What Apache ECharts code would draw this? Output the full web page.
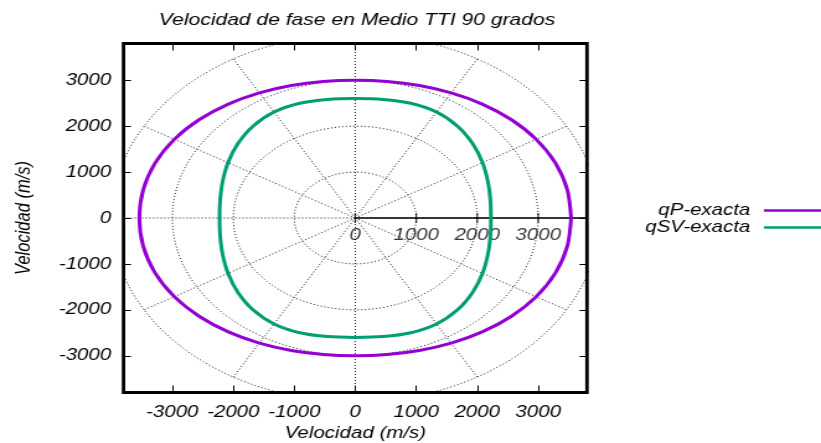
<!DOCTYPE html>
<html>
<head>
<meta charset="utf-8">
<script src="https://cdn.jsdelivr.net/npm/echarts@6/dist/echarts.min.js"></script>
<style>
  html, body { margin: 0; padding: 0; background: #fff; overflow: hidden; }
  /* gnuplot-style wide lettering: the chart is laid out narrower and widened */
  #chart { width: 662px; height: 443px; transform: scaleX(1.2402); transform-origin: 0 0; }
</style>
</head>
<body>
<div id="chart"></div>
<script>
// Propagation angle (degrees) and phase velocity (m/s) of each wave mode
const angles = [0, 10, 20, 30, 40, 50, 60, 70, 80, 90, 100, 110, 120, 130, 140, 150, 160, 170,
                180, 190, 200, 210, 220, 230, 240, 250, 260, 270, 280, 290, 300, 310, 320, 330, 340, 350];
const qPVelocity = [3540, 3531, 3494, 3426, 3336, 3238, 3146, 3070, 3019, 3000, 3019, 3070, 3146, 3238, 3336, 3426, 3494, 3531,
                    3540, 3531, 3494, 3426, 3336, 3238, 3146, 3070, 3019, 3000, 3019, 3070, 3146, 3238, 3336, 3426, 3494, 3531];
const qSVVelocity = [2225, 2250, 2315, 2410, 2515, 2610, 2665, 2660, 2622, 2600, 2622, 2660, 2665, 2610, 2515, 2410, 2315, 2250,
                     2225, 2250, 2315, 2410, 2515, 2610, 2665, 2660, 2622, 2600, 2622, 2660, 2665, 2610, 2515, 2410, 2315, 2250];

// Axis ticks, polar grid rings and spokes
const axisTicks = [-3000, -2000, -1000, 0, 1000, 2000, 3000];
const radialTicks = [0, 1000, 2000, 3000];
const gridRadii = [1000, 2000, 3000, 4000];
const spokeAngles = [0, 30, 60, 90, 120, 150, 180, 210, 240, 270, 300, 330];
const axisLimit = 3800;

const FONT = "'Liberation Sans', Arial, Helvetica, sans-serif";
const textBase = { color: '#000', fontFamily: FONT, fontStyle: 'italic', fontSize: 16.5 };
const rad = Math.PI / 180;

function polarToXY(angleList, radiusList) {
  const pts = angleList.map((a, i) => [radiusList[i] * Math.cos(a * rad), radiusList[i] * Math.sin(a * rad)]);
  pts.push(pts[0].slice());
  return pts;
}

const gridStyle = { color: '#1e1e1e', width: 1, type: [1, 2] };
const guideSeries = [];
gridRadii.forEach(r => {
  const pts = [];
  for (let a = 0; a <= 360; a += 2) pts.push([r * Math.cos(a * rad), r * Math.sin(a * rad)]);
  guideSeries.push({ type: 'line', data: pts, symbol: 'none', silent: true, lineStyle: gridStyle, z: 1 });
});
spokeAngles.forEach(a => {
  const outer = gridRadii[gridRadii.length - 1];
  guideSeries.push({
    type: 'line', data: [[0, 0], [outer * Math.cos(a * rad), outer * Math.sin(a * rad)]],
    symbol: 'none', silent: true, lineStyle: gridStyle, z: 1
  });
});

const valueFmt = v => String(v);

function frameAxis(position, tickLength, withLabels) {
  const axis = {
    type: 'value', min: -axisLimit, max: axisLimit, position,
    axisLine: { show: false, onZero: false }, splitLine: { show: false },
    axisTick: { inside: true, length: tickLength, customValues: axisTicks, lineStyle: { color: '#000', width: 1 } },
    axisLabel: { show: false }
  };
  if (withLabels) {
    axis.axisLabel = Object.assign({ show: true, customValues: axisTicks, formatter: valueFmt }, textBase);
  }
  return axis;
}

const xMain = frameAxis('bottom', 7, true);
xMain.axisLabel.margin = 11;
Object.assign(xMain, { name: 'Velocidad (m/s)', nameLocation: 'middle', nameGap: 32, nameTextStyle: textBase });

const yMain = frameAxis('left', 6, true);
yMain.axisLabel.margin = 10;
Object.assign(yMain, { name: 'Velocidad (m/s)', nameLocation: 'middle', nameGap: 72, nameRotate: 90, nameTextStyle: textBase });

const option = {
  animation: false,
  backgroundColor: '#fff',
  title: {
    text: 'Velocidad de fase en Medio TTI 90 grados',
    left: 128, top: 12, padding: 0,
    textStyle: Object.assign({}, textBase, { fontSize: 17, fontWeight: 'normal' })
  },
  legend: {
    data: ['qP-exacta', 'qSV-exacta'],
    orient: 'vertical', right: 0, top: 202, padding: 0,
    align: 'right', icon: 'rect', itemWidth: 46, itemHeight: 2.6, itemGap: 0,
    textStyle: Object.assign({}, textBase, { lineHeight: 16, padding: [0, 6, 0, 0] })
  },
  grid: {
    show: true, left: 99.6, right: 188.7, top: 43.5, bottom: 50.5,
    outerBoundsMode: 'none', containLabel: false,
    borderColor: '#000', borderWidth: 2.8, backgroundColor: 'transparent'
  },
  xAxis: [xMain, frameAxis('top', 7, false)],
  yAxis: [yMain, frameAxis('right', 6, false)],
  series: guideSeries.concat([
    {
      // radial axis along the positive x direction
      type: 'line', data: [[0, 0], [axisLimit, 0]], symbol: 'none', silent: true,
      lineStyle: { color: '#000', width: 1.6 }, z: 3
    },
    {
      type: 'scatter', data: radialTicks.map(v => [v, 0]), symbol: 'rect', symbolSize: [1.2, 10],
      itemStyle: { color: '#000' }, silent: true, z: 3,
      label: Object.assign({ show: true, position: 'bottom', distance: 4, formatter: p => String(p.value[0]) }, textBase)
    },
    {
      name: 'qP-exacta', type: 'line', data: polarToXY(angles, qPVelocity),
      smooth: 0.3, symbol: 'none', lineStyle: { color: '#9400d3', width: 3 }, itemStyle: { color: '#9400d3' }, z: 5
    },
    {
      name: 'qSV-exacta', type: 'line', data: polarToXY(angles, qSVVelocity),
      smooth: 0.3, symbol: 'none', lineStyle: { color: '#009e73', width: 3 }, itemStyle: { color: '#009e73' }, z: 5
    }
  ])
};

const chart = echarts.init(document.getElementById('chart'));
chart.setOption(option);
</script>
</body>
</html>
